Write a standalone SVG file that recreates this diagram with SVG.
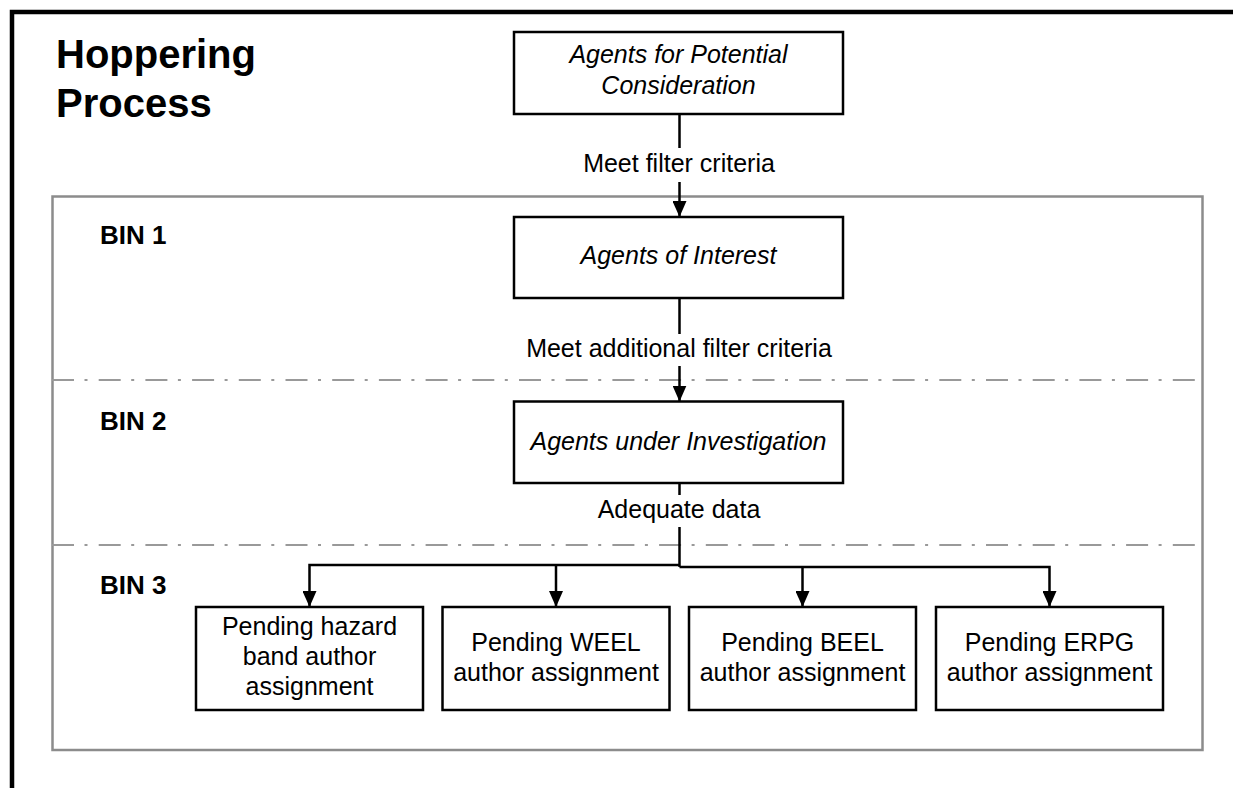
<svg xmlns="http://www.w3.org/2000/svg" width="1233" height="788" viewBox="0 0 1233 788">
<style>
  .t { font-family: "Liberation Sans", Arial, sans-serif; font-size: 25px; fill: #000; text-anchor: middle; }
  .it { font-style: italic; }
  .title { font-family: "Liberation Sans", Arial, sans-serif; font-size: 40px; font-weight: bold; fill: #000; }
  .bin { font-family: "Liberation Sans", Arial, sans-serif; font-size: 26px; font-weight: bold; fill: #000; }
  .box { fill: #fff; stroke: #000; stroke-width: 2.5; }
  .conn { fill: none; stroke: #000; stroke-width: 2.5; }
  .sep { fill: none; stroke: #999; stroke-width: 2.2; stroke-dasharray: 22 10.5 3 11.2; }
</style>
<defs>
  <marker id="arr" viewBox="0 0 16 14" refX="16" refY="7" markerWidth="16" markerHeight="14" markerUnits="userSpaceOnUse" orient="auto">
    <path d="M0,0 L16,7 L0,14 z" fill="#000"/>
  </marker>
</defs>
<rect x="0" y="0" width="1233" height="788" fill="#fff"/>
<path d="M12,788 V12 H1233" fill="none" stroke="#000" stroke-width="4.5"/>
<g id="title">
  <text class="title" x="56" y="68">Hoppering</text>
  <text class="title" x="56" y="117">Process</text>
</g>
<g id="bins">
  <rect x="52.5" y="196.5" width="1150" height="553.5" fill="none" stroke="#8c8c8c" stroke-width="2.5"/>
  <line class="sep" x1="52" y1="380" x2="1202" y2="380"/>
  <line class="sep" x1="52" y1="545" x2="1202" y2="545"/>
  <text class="bin" x="100" y="244">BIN 1</text>
  <text class="bin" x="100" y="430">BIN 2</text>
  <text class="bin" x="100" y="594">BIN 3</text>
</g>
<g id="connectors">
  <path class="conn" d="M679.5,114 V148"/>
  <path class="conn" d="M679.5,182 V217" marker-end="url(#arr)"/>
  <path class="conn" d="M679.5,298 V334"/>
  <path class="conn" d="M679.5,366 V401.5" marker-end="url(#arr)"/>
  <path class="conn" d="M679.5,483 V495"/>
  <path class="conn" d="M679.5,527 V567"/>
  <path class="conn" d="M679.5,565 H309.5 V607" marker-end="url(#arr)"/>
  <path class="conn" d="M556,565 V607" marker-end="url(#arr)"/>
  <path class="conn" d="M679.5,567 H1049.5 V607" marker-end="url(#arr)"/>
  <path class="conn" d="M802.5,567 V607" marker-end="url(#arr)"/>
  <text class="t" x="679" y="172">Meet filter criteria</text>
  <text class="t" x="679" y="357">Meet additional filter criteria</text>
  <text class="t" x="679" y="518">Adequate data</text>
</g>
<g id="node-potential">
  <rect class="box" x="514" y="32" width="329" height="82"/>
  <text class="t it" x="678.5" y="63">Agents for Potential</text>
  <text class="t it" x="678.5" y="94">Consideration</text>
</g>
<g id="node-interest">
  <rect class="box" x="514" y="217" width="329" height="81"/>
  <text class="t it" x="678.5" y="264">Agents of Interest</text>
</g>
<g id="node-investigation">
  <rect class="box" x="514" y="401.5" width="329" height="81.5"/>
  <text class="t it" x="678.5" y="450">Agents under Investigation</text>
</g>
<g id="node-hazard">
  <rect class="box" x="196" y="607" width="227" height="103"/>
  <text class="t" x="309.5" y="635">Pending hazard</text>
  <text class="t" x="309.5" y="665">band author</text>
  <text class="t" x="309.5" y="695">assignment</text>
</g>
<g id="node-weel">
  <rect class="box" x="442.5" y="607" width="227" height="103"/>
  <text class="t" x="556" y="651">Pending WEEL</text>
  <text class="t" x="556" y="681">author assignment</text>
</g>
<g id="node-beel">
  <rect class="box" x="689" y="607" width="227" height="103"/>
  <text class="t" x="802.5" y="651">Pending BEEL</text>
  <text class="t" x="802.5" y="681">author assignment</text>
</g>
<g id="node-erpg">
  <rect class="box" x="936" y="607" width="227" height="103"/>
  <text class="t" x="1049.5" y="651">Pending ERPG</text>
  <text class="t" x="1049.5" y="681">author assignment</text>
</g>
</svg>
